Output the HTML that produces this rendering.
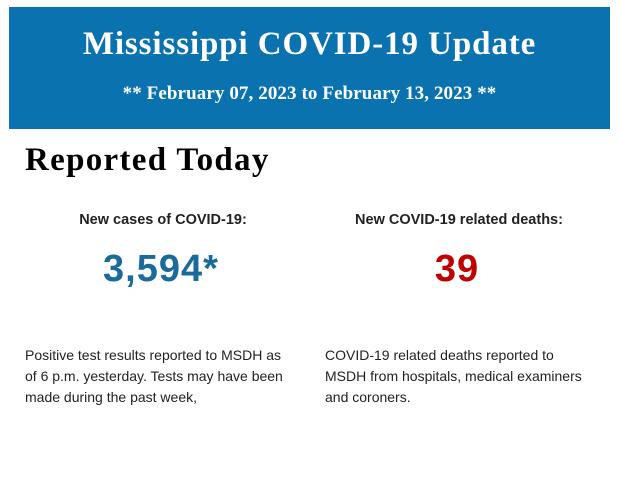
<!DOCTYPE html>
<html><head><style>
body{margin:0;width:620px;height:483px;background:#fff;position:relative;overflow:hidden;font-family:"Liberation Sans",sans-serif}
.hdr{position:absolute;left:9px;top:7px;width:601px;height:122px;background:#0b72b0;color:#fff;text-align:center;font-family:"Liberation Serif",serif;font-weight:bold}
.t1{position:absolute;left:0;right:0;top:19px;font-size:33px;letter-spacing:0.9px}
.t2{position:absolute;left:0;right:0;top:76px;font-size:19px;letter-spacing:0.1px}
.h2{position:absolute;left:25px;top:142px;font-family:"Liberation Serif",serif;font-weight:bold;font-size:33px;letter-spacing:1.3px;color:#000}
.lab{position:absolute;font-weight:bold;font-size:14.5px;color:#222;text-align:center;width:300px}
.num{position:absolute;font-weight:bold;font-size:38px;letter-spacing:1px;text-align:center;width:300px}
.p{position:absolute;font-size:14px;line-height:21px;color:#222}
</style></head><body>
<div class="hdr"><div class="t1">Mississippi COVID-19 Update</div><div class="t2">** February 07, 2023 to February 13, 2023 **</div></div>
<div class="h2">Reported Today</div>
<div class="lab" style="left:13px;top:212px">New cases of COVID-19:</div>
<div class="lab" style="left:309px;top:212px">New COVID-19 related deaths:</div>
<div class="num" style="left:11px;top:248px;color:#1a6a9c">3,594*</div>
<div class="num" style="left:307px;top:248px;color:#c00000">39</div>
<div class="p" style="left:25px;top:345px;width:266px">Positive test results reported to MSDH as of 6 p.m. yesterday. Tests may have been made during the past week,</div>
<div class="p" style="left:325px;top:345px;width:272px">COVID-19 related deaths reported to MSDH from hospitals, medical examiners and coroners.</div>
</body></html>
